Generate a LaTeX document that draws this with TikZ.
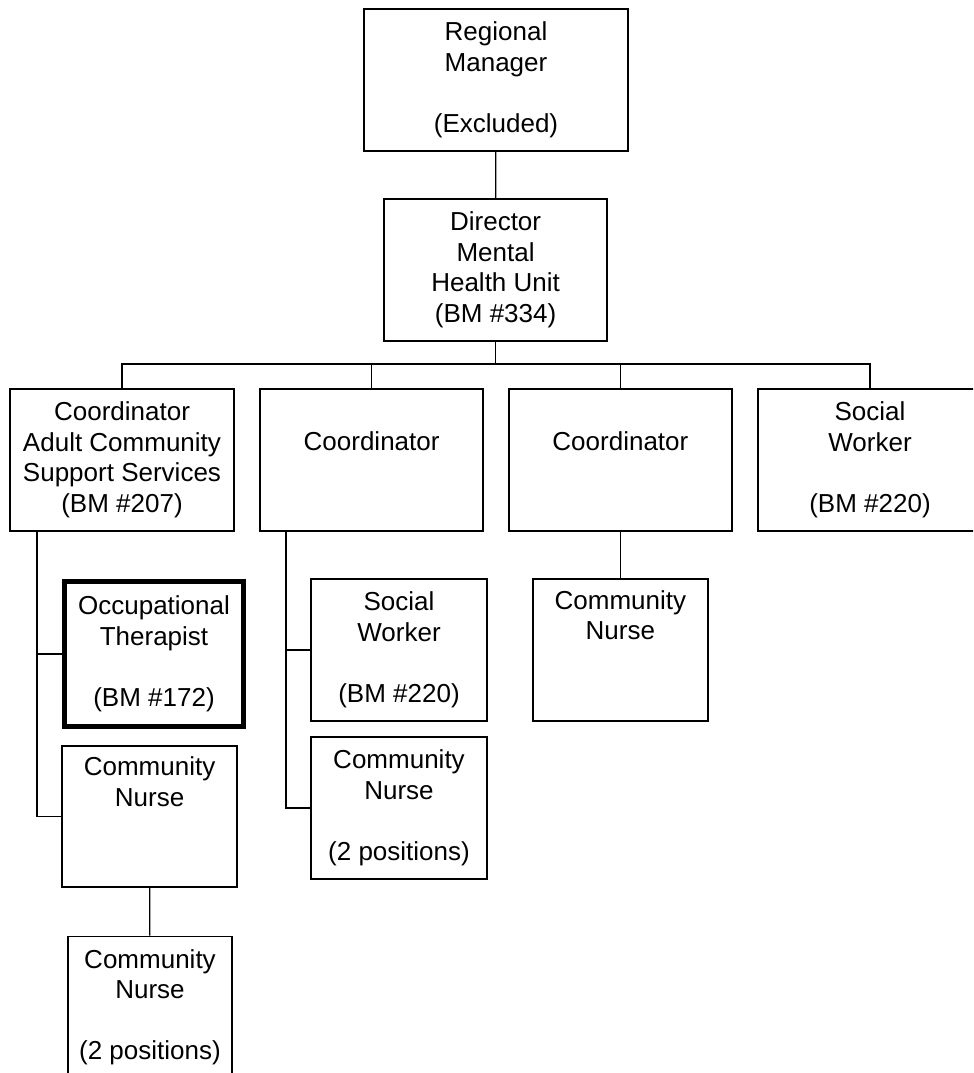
\documentclass[tikz,border=0pt]{standalone}
\usepackage{fontspec}
\setmainfont{Liberation Sans}
\usepackage{tikz}

\tikzset{
	post/.style={draw, line width=0.9pt, align=center, inner sep=0pt,
		minimum width=#1, minimum height=3.55cm,
		font=\fontsize{18.5}{21.7}\selectfont},
	post/.default=5.6cm,
	link/.style={line width=0.9pt}
}

\begin{document}
\begin{tikzpicture}
		\useasboundingbox (0, 0) rectangle (24.325, -26.825);
		\clip (0, 0) rectangle (24.325, -26.825);
		
		\node[post=6.6cm] (manager) at (12.4, -2.0) {Regional\\Manager\\\strut\\(Excluded)};
		\node[post=5.575cm] (director) at (12.39, -6.75) {Director\\Mental\\Health Unit\\(BM \#334)};
		
		\node[post] (coordACSS) at (3.05, -11.5) {Coordinator\\Adult Community\\Support Services\\(BM \#207)};
		\node[post=5.575cm] (coordB) at (9.29, -11.5) {\strut\\Coordinator\\\strut\\\strut};
		\node[post=5.575cm] (coordC) at (15.51, -11.5) {\strut\\Coordinator\\\strut\\\strut};
		\node[post] (socialTop) at (21.75, -11.5) {Social\\Worker\\\strut\\(BM \#220)};
		
		\node[post=4.475cm, minimum height=3.625cm, line width=3.5pt] (therapist) at (3.85, -16.35) {Occupational\\Therapist\\\strut\\(BM \#172)};
		\node[post=4.375cm, minimum height=3.525cm] (nurseA) at (3.74, -20.41) {Community\\Nurse\\\strut\\\strut};
		\node[post=4.1cm] (nurseAA) at (3.75, -25.18) {Community\\Nurse\\\strut\\(2 positions)};
		
		\node[post=4.4cm] (socialB) at (9.975, -16.25) {Social\\Worker\\\strut\\(BM \#220)};
		\node[post=4.4cm] (nurseB) at (9.975, -20.2) {Community\\Nurse\\\strut\\(2 positions)};
		
		\node[post=4.375cm] (nurseC) at (15.51, -16.25) {Community\\Nurse\\\strut\\\strut};
		
		\coordinate (bar) at (12.39, -9.1);
		\coordinate (trunkA) at (0.925, 0);
		\coordinate (trunkB) at (7.15, 0);
		
		\draw[link] (manager) -- (director);
		\draw[link] (director) -- (bar);
		\draw[link] (coordACSS.north) |- (bar) -| (socialTop.north);
		\draw[link] (coordB.north) -- (coordB.north |- bar);
		\draw[link] (coordC.north) -- (coordC.north |- bar);
		
		\draw[link] (coordACSS.south -| trunkA) |- (therapist.west);
		\draw[link] (coordACSS.south -| trunkA) |- (nurseA.west);
		\draw[link] (nurseA) -- (nurseAA);
		
		\draw[link] (coordB.south -| trunkB) |- (socialB.west);
		\draw[link] (coordB.south -| trunkB) |- (nurseB.west);
		
		\draw[link] (coordC) -- (nurseC);
		\end{tikzpicture}
\end{document}
